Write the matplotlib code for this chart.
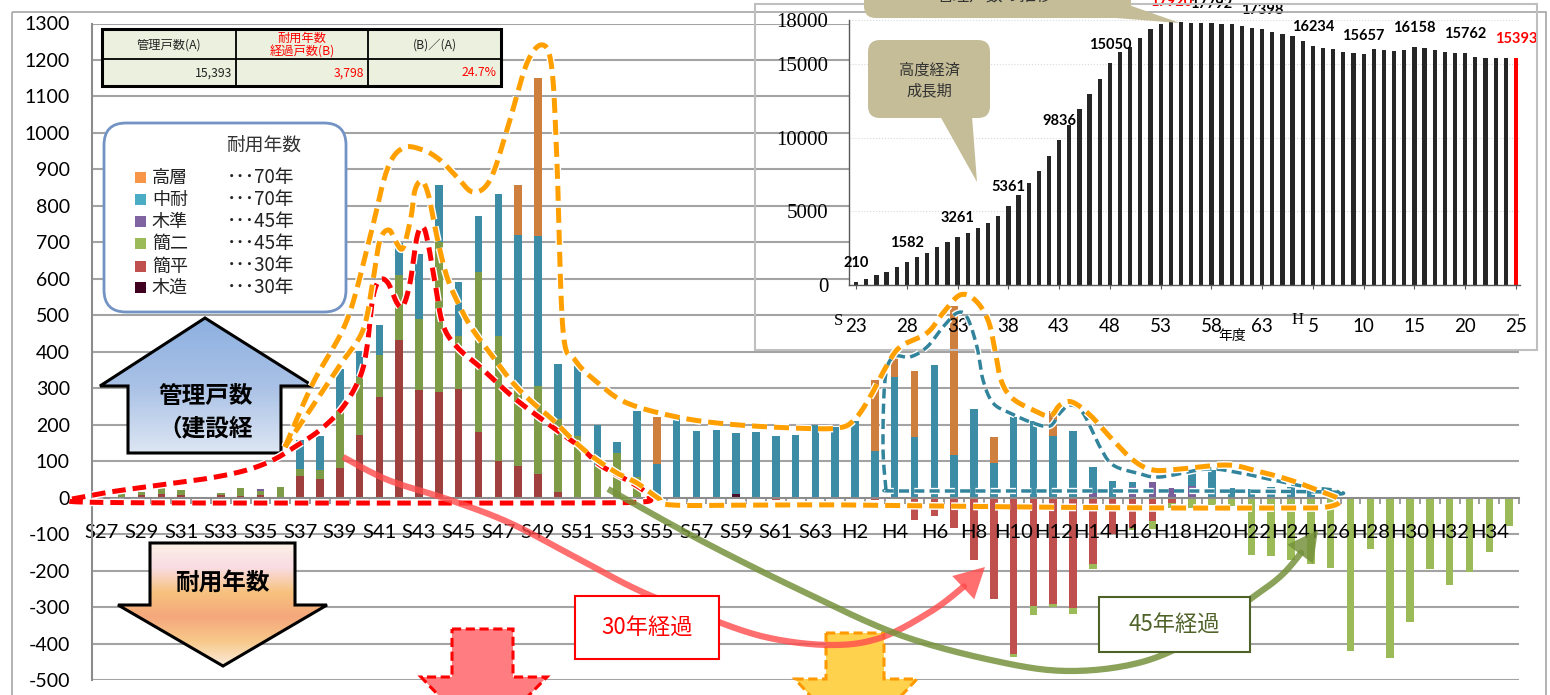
import numpy as np
import matplotlib
matplotlib.use('Agg')
import matplotlib.pyplot as plt
from matplotlib.patches import Polygon, Rectangle, FancyBboxPatch
from matplotlib.colors import LinearSegmentedColormap
import matplotlib.patheffects as pe

plt.rcParams['font.family'] = ['Noto Sans CJK JP', 'DejaVu Sans']
plt.rcParams['axes.unicode_minus'] = False
JP = ['Noto Sans CJK JP', 'DejaVu Sans']
NUM = ['Lato', 'DejaVu Sans']
SERIF = ['Liberation Serif', 'DejaVu Serif']

# ---------------- data: main chart (S27 .. S63, H1 .. H35) ----------------
categories = [f"S{y}" for y in range(27, 64)] + [f"H{y}" for y in range(1, 36)]

mokuzo = [0, 0, 0, 0, 0, 0, 0, 0, 0, 0,
          0, 0, 0, 0, 0, 0, 0, 0, 0, 0,
          0, 0, 0, 0, 0, 0, 0, 0, 0, 0,
          0, 0, 10, 0, 0, 0, 0, 0, 0, 0,
          0, 0, 0, 0, 0, 0, 0, 0, 0, 0,
          0, 0, 0, 0, 0, 0, 0, 0, 0, 0,
          0, 0, 0, 0, 0, 0, 0, 0, 0, 0,
          0, 0]
kanpei = [0, 0, 6, 9, 6, 0, 6, 5, 6, 0,
          60, 52, 82, 173, 277, 431, 296, 291, 298, 179,
          101, 86, 66, 15, 0, 3, 0, 0, 0, 0,
          0, 0, 0, 0, 0, 0, 0, 0, 0, 0,
          0, 0, 0, 0, 0, 0, 0, 0, 0, 0,
          0, 0, 0, 0, 0, 0, 0, 0, 0, 0,
          0, 0, 0, 0, 0, 0, 0, 0, 0, 0,
          0, 0]
kanni = [11, 25, 10, 19, 16, 0, 7, 21, 13, 29,
         19, 23, 162, 159, 115, 180, 194, 410, 144, 441,
         343, 219, 241, 201, 170, 83, 122, 57, 0, 0,
         0, 0, 0, 0, 0, 0, 0, 0, 0, 0,
         0, 0, 0, 0, 0, 0, 0, 0, 0, 0,
         0, 0, 0, 0, 0, 0, 0, 0, 0, 0,
         0, 0, 0, 0, 0, 0, 0, 0, 0, 0,
         0, 0]
mokujun = [0, 0, 0, 0, 0, 0, 0, 0, 5, 0,
           0, 0, 0, 0, 0, 0, 0, 0, 0, 0,
           0, 0, 0, 0, 0, 0, 0, 0, 0, 0,
           0, 0, 0, 0, 0, 0, 0, 0, 0, 0,
           0, 0, 0, 0, 0, 0, 0, 0, 0, 0,
           14, 0, 30, 42, 27, 33, 0, 0, 0, 0,
           0, 0, 0, 0, 0, 0, 0, 0, 0, 0,
           0, 0]
chutai = [0, 0, 0, 0, 0, 0, 0, 0, 0, 0,
          78, 93, 109, 70, 82, 87, 178, 155, 150, 151,
          389, 414, 409, 150, 191, 112, 30, 181, 93, 229,
          184, 186, 167, 179, 168, 172, 200, 195, 209, 127,
          332, 165, 364, 116, 243, 95, 220, 209, 168, 184,
          69, 45, 13, 0, 0, 44, 77, 27, 25, 28,
          30, 32, 0, 0, 0, 0, 0, 0, 0, 0,
          0, 0]
kousou = [0, 0, 0, 0, 0, 0, 0, 0, 0, 0,
          0, 0, 0, 0, 0, 0, 0, 0, 0, 0,
          0, 138, 434, 0, 0, 0, 0, 0, 128, 0,
          0, 0, 0, 0, 0, 0, 0, 0, 0, 196,
          69, 181, 0, 410, 0, 70, 0, 0, 70, 0,
          0, 0, 0, 0, 0, 0, 0, 0, 0, 0,
          0, 0, 0, 0, 0, 0, 0, 0, 0, 0,
          0, 0]
kanpei_exp = [0, 0, 0, 0, 0, 0, 0, 0, 0, 0,
              0, 0, 0, 0, 0, 0, 0, 0, 0, 0,
              0, 0, 0, 0, 0, 0, 0, 0, 0, 0,
              0, 0, 0, -5, -6, -5, 0, -4, -4, -6,
              0, -60, -51, -83, -172, -277, -430, -296, -291, -302,
              -181, -101, -83, -65, -15, 0, 0, 0, 0, 0,
              0, 0, 0, 0, 0, 0, 0, 0, 0, 0,
              0, 0]
kanni_exp = [0, 0, 0, 0, 0, 0, 0, 0, 0, 0,
             0, 0, 0, 0, 0, 0, 0, 0, 0, 0,
             0, 0, 0, 0, 0, 0, 0, 0, 0, 0,
             0, 0, 0, 0, 0, 0, 0, 0, 0, 0,
             0, 0, 0, 0, 0, 0, -8, -25, -9, -17,
             -14, 0, -5, -20, -13, -28, -19, -24, -158, -159,
             -172, -181, -194, -421, -140, -439, -342, -195, -240, -204,
             -149, -79]
yticks = list(range(-500, 1301, 100))

legend_names = ["高層", "中耐", "木準", "簡二", "簡平", "木造"]
legend_years = ["･･･70年", "･･･70年", "･･･45年", "･･･45年", "･･･30年", "･･･30年"]

table_head = ["管理戸数(A)", "耐用年数\n経過戸数(B)", "(B)／(A)"]
table_vals = ["15,393", "3,798", "24.7%"]

# ---------------- data: inset (S23 .. H25) ----------------
inset_years = [f"S{y}" for y in range(23, 64)] + [f"H{y}" for y in range(1, 26)]
inset_vals = [210, 430, 656, 905, 1244, 1582, 1877, 2150, 2600, 2918,
              3261, 3530, 3850, 4185, 4680, 5361, 6085, 6945, 7760, 8780,
              9836, 10860, 11940, 12940, 14000, 15050, 15810, 16130, 16740, 17350,
              17690, 17920, 17840, 17750, 17800, 17792, 17740, 17690, 17580, 17460,
              17398, 17170, 17010, 16900, 16530, 16234, 16080, 16010, 15830, 15720,
              15657, 15990, 15950, 15900, 15950, 16158, 16100, 15950, 15830, 15770,
              15762, 15500, 15430, 15400, 15380, 15393]
inset_label_idx = [0, 5, 10, 15, 20, 25, 31, 35, 40, 45, 50, 55, 60, 65]
inset_red_idx = [31, 65]
inset_tick_idx = [0, 5, 10, 15, 20, 25, 30, 35, 40, 45, 50, 55, 60, 65]
inset_tick_lab = ["23", "28", "33", "38", "43", "48", "53", "58", "63", "5", "10", "15", "20", "25"]

# ---------------- colours ----------------
C_MOKUZO = '#4A0F2A'
C_KANPEI = '#A0403E'
C_KANNI = '#7E9B48'
C_MOKUJUN = '#7A5E9C'
C_CHUTAI = '#3C8CA6'
C_KOUSOU = '#CF7F3D'
C_KANPEI_N = '#C0504D'
C_KANNI_N = '#9BBB59'
LEG_COLORS = ['#F79646', '#4BACC6', '#8064A2', '#9BBB59', '#C0504D', '#400020']

W, H = 1550, 695
fig = plt.figure(figsize=(W / 100, H / 100), dpi=100)

# ---------------- main axes ----------------
ax = fig.add_axes([92 / W, (H - 680) / H, 1427 / W, (680 - 23.5) / H], zorder=1)
ax.spines['bottom'].set_position(('data', 0))
x = np.arange(len(categories))
bw = 0.38
for v in yticks:
    if v != 0:
        ax.axhline(v, color='#A3A3A3', lw=1.5, zorder=0.5)
bottom = np.zeros(len(categories))
for ser, col in [(mokuzo, C_MOKUZO), (kanpei, C_KANPEI), (kanni, C_KANNI),
                 (mokujun, C_MOKUJUN), (chutai, C_CHUTAI), (kousou, C_KOUSOU)]:
    s = np.array(ser, float)
    ax.bar(x, s, bw, bottom=bottom, color=col, lw=0, zorder=1)
    bottom += s
kn = np.array(kanpei_exp, float)
ax.bar(x, kn, bw, color=C_KANPEI_N, lw=0, zorder=1)
ax.bar(x, np.array(kanni_exp, float), bw, bottom=kn, color=C_KANNI_N, lw=0, zorder=1)

ax.set_xlim(-0.5, len(categories) - 0.5)
ax.set_ylim(-500, 1300)
ax.set_yticks(yticks)
ax.set_yticklabels([str(v) for v in yticks], fontfamily=NUM, fontsize=14)
ax.tick_params(axis='y', length=0, pad=16)
ax.set_xticks(x[::2])
ax.set_xticklabels(categories[::2], fontfamily=NUM, fontsize=14.5)
ax.tick_params(axis='x', which='major', length=0, pad=19)
ax.set_xticks(np.arange(-0.5, len(categories), 1), minor=True)
ax.tick_params(axis='x', which='minor', length=4, width=1.2, color='#8C8C8C', direction='out')
for sp in ['bottom', 'left']:
    ax.spines[sp].set_color('#8C8C8C')
    ax.spines[sp].set_linewidth(1.5)
for sp in ['top', 'right']:
    ax.spines[sp].set_visible(False)
ax.patch.set_alpha(0)

# ---------------- inset axes ----------------
axi = fig.add_axes([849 / W, (H - 285) / H, (1520 - 849) / W, (285 - 19.8) / H], zorder=5)
axi.set_facecolor('white')
xi = np.arange(len(inset_vals))
bar_cols = ['#FF0000' if i == len(inset_vals) - 1 else '#262626' for i in xi]
axi.bar(xi, inset_vals, 0.42, color=bar_cols, lw=0, zorder=2)
axi.set_xlim(-0.7, 65.4)
axi.set_ylim(0, 18000)
axi.set_yticks([0, 5000, 10000, 15000, 18000])
axi.set_yticklabels(['0', '5000', '10000', '15000', '18000'], fontfamily=SERIF, fontsize=15)
axi.tick_params(axis='y', length=0, pad=15)
axi.yaxis.grid(True, color='#D9D9D9', lw=0.8, ls=':')
axi.set_axisbelow(True)
axi.set_xticks(inset_tick_idx)
axi.set_xticklabels(inset_tick_lab, fontfamily=NUM, fontsize=13.5)
axi.tick_params(axis='x', length=3, color='#595959', pad=21)
for sp in ['top', 'right']:
    axi.spines[sp].set_visible(False)
for sp in ['bottom', 'left']:
    axi.spines[sp].set_color('#595959')
    axi.spines[sp].set_linewidth(1.0)
for i in inset_label_idx:
    axi.annotate(str(inset_vals[i]), (i, inset_vals[i]), xytext=(0, 13.5), textcoords='offset points',
                 ha='center', va='center', fontfamily=NUM, fontweight='bold', fontsize=10.5,
                 color='#FF0000' if i in inset_red_idx else 'black', annotation_clip=False)
axi.annotate('S', (0, 0), xytext=(-13, -26), textcoords='offset points', ha='center', va='center',
             fontfamily=SERIF, fontsize=12, annotation_clip=False)
axi.annotate('H', (45, 0), xytext=(-11, -25), textcoords='offset points', ha='center', va='center',
             fontfamily=SERIF, fontsize=12, annotation_clip=False)
axi.annotate('年度', (37, 0), xytext=(0, -37), textcoords='offset points', ha='center', va='center',
             fontsize=10, annotation_clip=False)

# ---------------- overlay (pixel coordinates) ----------------
ov = fig.add_axes([0, 0, 1, 1], zorder=10)
ov.set_xlim(0, W)
ov.set_ylim(H, 0)
ov.axis('off')
ov.patch.set_alpha(0)


def smooth(pts, n=14):
    P = np.array(pts, float)
    P = np.vstack([P[0], P, P[-1]])
    out = []
    t = np.linspace(0, 1, n, endpoint=False)[:, None]
    for i in range(1, len(P) - 2):
        p0, p1, p2, p3 = P[i - 1], P[i], P[i + 1], P[i + 2]
        seg = 0.5 * (2 * p1 + (-p0 + p2) * t + (2 * p0 - 5 * p1 + 4 * p2 - p3) * t ** 2
                     + (-p0 + 3 * p1 - 3 * p2 + p3) * t ** 3)
        out.append(seg)
    out.append(P[-2][None])
    return np.vstack(out)


# outer chart border and inset frame
ov.add_patch(Rectangle((12, 12), 1534, 700, fill=False, ec='#A6A6A6', lw=1.2, zorder=0.5))
ov.add_patch(Rectangle((755, 4), 782, 346, fill=False, ec='#BFBFBF', lw=1.5, zorder=0.6))

# callouts in inset
khaki = '#C4BD97'
ov.add_patch(FancyBboxPatch((864, -40), 267, 58, boxstyle='round,pad=0,rounding_size=12',
                            fc=khaki, ec='none', zorder=1))
ov.add_patch(Polygon([(1090, 16), (1126, 4), (1180, 23)], closed=True, fc=khaki, ec='none', zorder=1))
ov.text(995, -4, '管理戸数の推移', ha='center', va='center', fontsize=12, color='#333333', zorder=2)
ov.add_patch(FancyBboxPatch((868, 40), 122, 78, boxstyle='round,pad=0,rounding_size=12',
                            fc=khaki, ec='none', zorder=1))
ov.add_patch(Polygon([(940, 116), (972, 116), (977, 182)], closed=True, fc=khaki, ec='none', zorder=1))
ov.text(929, 70, '高度経済', ha='center', va='center', fontsize=11, color='#333333', zorder=2)
ov.text(929, 91, '成長期', ha='center', va='center', fontsize=11, color='#333333', zorder=2)

# table
tx = [102, 236, 368, 501]
ty = [29, 59, 86]
for j in range(3):
    ov.add_patch(Rectangle((tx[j], ty[0]), tx[j + 1] - tx[j], ty[2] - ty[0], fc='#EBF1DE', ec='none', zorder=2))
for xx in tx[1:-1]:
    ov.plot([xx, xx], [ty[0], ty[2]], color='black', lw=1.3, zorder=3)
ov.plot([tx[0], tx[-1]], [ty[1], ty[1]], color='black', lw=1.3, zorder=3)
ov.add_patch(Rectangle((tx[0], ty[0]), tx[-1] - tx[0], ty[2] - ty[0], fill=False, ec='black', lw=2.2, zorder=3))
head_cols = ['#222222', '#FF0000', '#222222']
val_cols = ['#222222', '#FF0000', '#FF0000']
for j in range(3):
    ov.text((tx[j] + tx[j + 1]) / 2, 45, table_head[j], ha='center', va='center', fontsize=8.8,
            color=head_cols[j], linespacing=1.0, zorder=4)
    ov.text(tx[j + 1] - 4, 73, table_vals[j], ha='right', va='center', fontsize=8.8,
            color=val_cols[j], zorder=4)

# legend box
ov.add_patch(FancyBboxPatch((104, 123), 242, 189, boxstyle='round,pad=0,rounding_size=22',
                            fc='white', ec='#7393C4', lw=2.0, zorder=2))
ov.text(264, 145, '耐用年数', ha='center', va='center', fontsize=13.5, color='#333333', zorder=3)
rows = [177, 199, 221, 243, 266, 287]
for k in range(6):
    ov.add_patch(Rectangle((135, rows[k] - 5.5), 11, 11, fc=LEG_COLORS[k], ec='none', zorder=3))
    ov.text(152, rows[k] + 1, legend_names[k], ha='left', va='center', fontsize=13, color='#222222', zorder=3)
    ov.text(227, rows[k], legend_years[k], ha='left', va='center', fontsize=13.5, color='#222222', zorder=3)


def grad_poly(verts, colors, zorder, ec='black', lw=2.2, ls='-'):
    poly = Polygon(verts, closed=True, fc='none', ec=ec, lw=lw, ls=ls, zorder=zorder + 0.1)
    ov.add_patch(poly)
    xs = [v[0] for v in verts]
    ys = [v[1] for v in verts]
    cmap = LinearSegmentedColormap.from_list('g', colors)
    grad = np.linspace(0, 1, 256)[:, None]
    im = ov.imshow(grad, cmap=cmap, extent=(min(xs), max(xs), max(ys), min(ys)), aspect='auto',
                   origin='upper', zorder=zorder, interpolation='bilinear')
    im.set_clip_path(poly)


grad_poly([(205, 318), (313, 386), (281, 386), (281, 453), (128, 453), (128, 386), (100, 386)],
          ['#8DB0E0', '#A9C1E6', '#DDE6F3'], 2)
ov.text(206, 396, '管理戸数', ha='center', va='center', fontsize=17, fontweight='bold', zorder=3)
ov.text(206, 428, '（建設経', ha='center', va='center', fontsize=17, fontweight='bold', zorder=3)

grad_poly([(150, 543), (295, 543), (295, 605), (327, 605), (223, 666), (118, 605), (150, 605)],
          ['#FCF0E6', '#F9DCE3', '#F7C27E', '#F5A77C', '#F8C98A', '#FBEBDC'], 2)
ov.text(222, 583, '耐用年数', ha='center', va='center', fontsize=17, fontweight='bold', zorder=3)

ov.add_patch(Polygon([(452, 629), (513, 629), (513, 677), (547, 677), (483, 742), (421, 677), (452, 677)],
                     closed=True, fc='#FF7C80', ec='#FF0000', lw=2.2, ls=(0, (3, 1.5)), zorder=2))
ov.add_patch(Polygon([(826, 633), (884, 633), (884, 679), (917, 679), (855, 745), (795, 679), (826, 679)],
                     closed=True, fc='#FFD24D', ec='#FF9900', lw=2.2, ls=(0, (3, 1.5)), zorder=2))

# dashed envelope curves
orange_loop = [(285, 447), (313, 383), (347, 320), (370, 237), (387, 170), (403, 148), (423, 150),
               (440, 160), (457, 177), (473, 192), (490, 180), (507, 130), (527, 63), (543, 45),
               (552, 70), (557, 163), (563, 330), (575, 360), (598, 383), (627, 403), (677, 417),
               (727, 424), (793, 428), (838, 428), (855, 419), (870, 397), (886, 367), (900, 347),
               (927, 333), (943, 313), (960, 295), (975, 300), (988, 320), (995, 350), (1001, 380),
               (1012, 398), (1033, 410), (1050, 416), (1060, 405), (1072, 402), (1090, 415),
               (1110, 437), (1133, 460), (1153, 470), (1180, 469), (1227, 465), (1257, 471),
               (1290, 480), (1317, 490), (1340, 500), (1327, 507), (1290, 508), (1173, 508),
               (1027, 507), (860, 505), (760, 505), (672, 505), (658, 498), (637, 483), (617, 473),
               (593, 457), (573, 440), (553, 420), (533, 403), (513, 383), (493, 357), (473, 330),
               (460, 307), (447, 277), (437, 237), (429, 197), (422, 181), (415, 190), (411, 217),
               (403, 248), (396, 242), (389, 230), (380, 240), (373, 280), (363, 330), (340, 365),
               (310, 410), (285, 447)]
red_loop = [(72, 499), (110, 492), (160, 485), (210, 478), (247, 470), (273, 460), (293, 448),
            (320, 430), (343, 407), (360, 377), (367, 347), (373, 297), (380, 280), (388, 283),
            (397, 303), (403, 306), (410, 283), (417, 237), (423, 227), (428, 243), (435, 283),
            (443, 325), (457, 347), (480, 367), (513, 397), (547, 423), (580, 447), (600, 465),
            (627, 480), (643, 490), (649, 497), (642, 502), (560, 503), (400, 503), (200, 503),
            (80, 502), (72, 499)]
blue_loop = [(886, 490), (883, 447), (885, 380), (893, 357), (910, 357), (927, 347), (943, 327),
             (957, 313), (967, 317), (977, 347), (983, 380), (993, 403), (1010, 413), (1033, 423),
             (1050, 426), (1060, 413), (1070, 405), (1083, 413), (1100, 447), (1113, 465),
             (1137, 473), (1160, 477), (1207, 469), (1240, 473), (1273, 480), (1307, 487),
             (1333, 490), (1340, 494), (1330, 492), (1200, 491), (1000, 491), (895, 491), (886, 490)]

for pts, col, lw, dash in [(blue_loop, '#31849B', 2.5, (2.9, 1.5)),
                           (red_loop, '#FF0000', 3.6, (2.7, 1.4)),
                           (orange_loop, '#FFA000', 3.6, (3.0, 1.4))]:
    c = smooth(pts)
    ov.plot(c[:, 0], c[:, 1], color=col, lw=lw, ls=(0, dash), solid_capstyle='butt',
            dash_capstyle='butt', zorder=4,
            path_effects=[pe.Stroke(linewidth=lw + 2.0, foreground='white'), pe.Normal()])


def curve_arrow(pts, color, lw, alpha, head_len, head_w, zorder):
    c = smooth(pts)
    tip = c[-1]
    d = c[-1] - c[-6]
    d = d / np.hypot(*d)
    base = tip - d * head_len
    dist = np.hypot(*(c - tip).T)
    body = c[dist >= head_len * 0.9]
    body = np.vstack([body, base])
    ov.plot(body[:, 0], body[:, 1], color=color, lw=lw, alpha=alpha, solid_capstyle='butt', zorder=zorder)
    perp = np.array([-d[1], d[0]])
    ov.add_patch(Polygon([tip, base + perp * head_w / 2, base - perp * head_w / 2], closed=True,
                         fc=color, ec='none', alpha=alpha, zorder=zorder))


curve_arrow([(343, 457), (388, 480), (450, 500), (510, 523), (575, 557), (638, 590), (700, 615),
             (765, 637), (830, 645), (880, 638), (930, 612), (962, 588), (985, 567)],
            '#FF4B4B', 4.5, 0.8, 30, 32, 5)
curve_arrow([(608, 489), (700, 540), (800, 590), (900, 635), (1000, 662), (1071, 671), (1142, 662),
             (1200, 636), (1249, 600), (1285, 572), (1318, 530)],
            '#76923C', 4.5, 0.85, 30, 32, 5)

ov.add_patch(Rectangle((575, 596), 144, 63, fc='white', ec='#FF0000', lw=1.5, zorder=6))
ov.text(647, 628, '30年経過', ha='center', va='center', fontsize=16, color='#FF0000', zorder=7)
ov.add_patch(Rectangle((1099, 597), 151, 55, fc='white', ec='#4F6228', lw=1.5, zorder=6))
ov.text(1174, 625, '45年経過', ha='center', va='center', fontsize=16, color='#4F6228', zorder=7)

ov.set_xlim(0, W)
ov.set_ylim(H, 0)

fig.savefig('out.png', dpi=100)
